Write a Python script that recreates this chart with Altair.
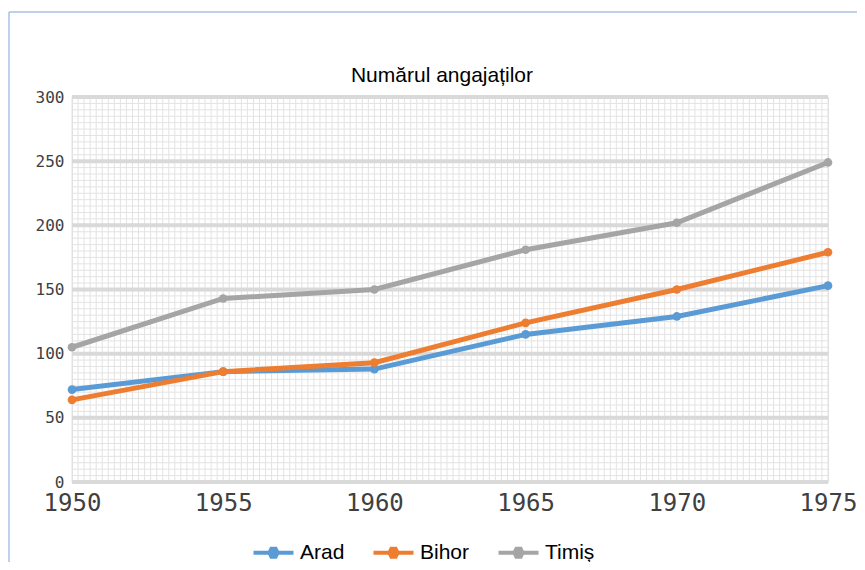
import altair as alt
import pandas as pd

# ---- data ----
years = [1950, 1955, 1960, 1965, 1970, 1975]
arad = [72, 86, 88, 115, 129, 153]
bihor = [64, 86, 93, 124, 150, 179]
timis = [105, 143, 150, 181, 202, 249]
series = ["Arad", "Bihor", "Timiș"]
colors = ["#5B9BD5", "#ED7D31", "#A5A5A5"]
y_ticks = [0, 50, 100, 150, 200, 250, 300]
x_ticks = [1950, 1955, 1960, 1965, 1970, 1975]
title_text = "Numărul angajaților"

rows = []
for name, vals in zip(series, [arad, bihor, timis]):
    for yr, v in zip(years, vals):
        rows.append({"An": yr, "Valoare": v, "Judet": name})
df = pd.DataFrame(rows)

# grid helper tables (styling only)
x_minor = pd.DataFrame({"An": [1950 + 0.2 * i for i in range(126)]})
y_minor = pd.DataFrame({"Valoare": list(range(0, 301, 5))})
y_major = pd.DataFrame({"Valoare": y_ticks})
one = pd.DataFrame({"t": [title_text]})

W, H = 756, 385
xscale = alt.Scale(domain=[1950, 1975], nice=False, zero=False)
yscale = alt.Scale(domain=[0, 300], nice=False)

x_enc = alt.X(
    "An:Q",
    scale=xscale,
    title=None,
    axis=alt.Axis(
        values=x_ticks, format="d", title=None, grid=False, domain=False, ticks=False,
        labelFont="DejaVu Sans Mono", labelFontSize=24, labelColor="#404040",
        labelPadding=9, labelFlush=False,
    ),
)
y_enc = alt.Y(
    "Valoare:Q",
    scale=yscale,
    title=None,
    axis=alt.Axis(
        values=y_ticks, title=None, grid=False, domain=False, ticks=False,
        labelFont="DejaVu Sans Mono", labelFontSize=16, labelColor="#404040",
        labelPadding=8, labelFlush=False,
    ),
)

minor_x = alt.Chart(x_minor).mark_rule(color="#e3e3e3", strokeWidth=1).encode(x=x_enc)
minor_y = alt.Chart(y_minor).mark_rule(color="#e3e3e3", strokeWidth=1).encode(y=y_enc)
major_y = alt.Chart(y_major).mark_rule(color="#d9d9d9", strokeWidth=4).encode(y=y_enc)

legend_path = "M-1.5,-0.15H-0.4L-0.25,-0.45H0.25L0.4,-0.15H1.5V0.15H0.4L0.25,0.45H-0.25L-0.4,0.15H-1.5Z"

color_enc = alt.Color(
    "Judet:N",
    scale=alt.Scale(domain=series, range=colors),
    legend=alt.Legend(
        title=None,
        orient="none",
        direction="horizontal",
        legendX=188,
        legendY=442,
        symbolType=legend_path,
        symbolSize=711,
        symbolStrokeWidth=0,
        symbolOpacity=1,
        labelFont="Liberation Sans",
        labelFontSize=21,
        labelColor="#000000",
        labelOffset=13,
        columnPadding=28,
        padding=0,
    ),
)

lines = alt.Chart(df).mark_line(strokeWidth=5).encode(x=x_enc, y=y_enc, color=color_enc)
points = alt.Chart(df).mark_circle(size=75, opacity=1).encode(x=x_enc, y=y_enc, color=color_enc)

title_mark = alt.Chart(one).mark_text(
    font="Liberation Sans", fontSize=21, color="#000000", align="center", baseline="alphabetic"
).encode(text="t:N", x=alt.value(370), y=alt.value(-15))

border_top = alt.Chart(one).mark_rule(color="#a8c2e6", strokeWidth=1.5).encode(
    x=alt.value(-63), x2=alt.value(W + 40), y=alt.value(-85)
)
border_left = alt.Chart(one).mark_rule(color="#a8c2e6", strokeWidth=1.5).encode(
    x=alt.value(-63), y=alt.value(-85), y2=alt.value(H + 100)
)

chart = alt.layer(
    minor_x, minor_y, major_y, lines, points, title_mark, border_top, border_left
).properties(
    width=W,
    height=H,
    autosize=alt.AutoSizeParams(type="none"),
    padding={"left": 64, "top": 89, "right": 29, "bottom": 80},
).configure_view(stroke=None).configure(background="white")

chart.save("out.html", embed_options={"renderer": "svg", "actions": False})
